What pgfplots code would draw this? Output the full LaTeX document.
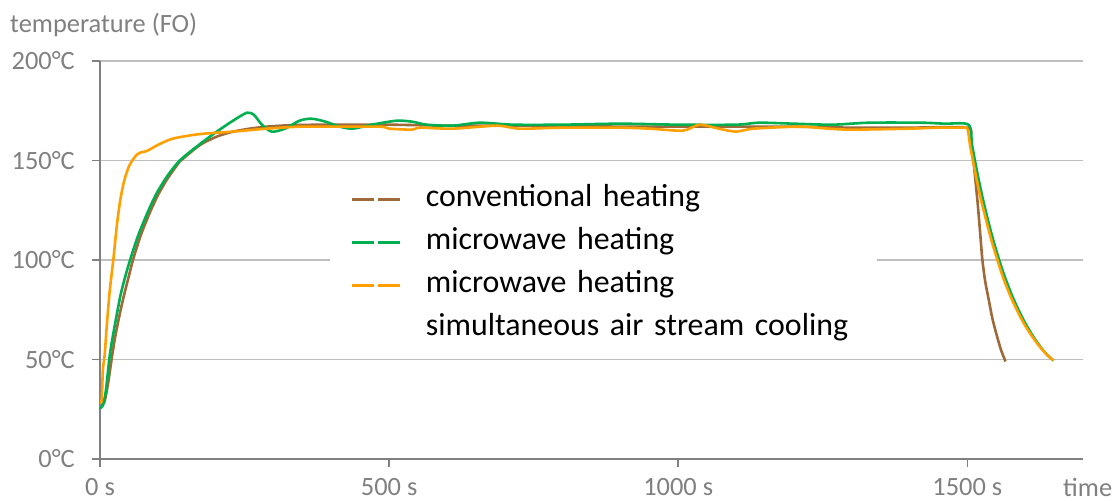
\documentclass[border=0pt]{standalone}
\usepackage{fontspec}
\setmainfont{Carlito}
\usepackage{pgfplots}
\pgfplotsset{compat=1.18}
\definecolor{cbrown}{RGB}{158,106,58}
\definecolor{cgreen}{RGB}{0,176,80}
\definecolor{corange}{RGB}{255,160,0}
\definecolor{axgray}{RGB}{128,128,128}
\definecolor{gridgray}{RGB}{191,191,191}
\begin{document}
\begin{tikzpicture}
\begin{axis}[
  scale only axis,
  width=983bp, height=398bp,
  xmin=0, xmax=1700, ymin=0, ymax=200,
  axis x line*=bottom, axis y line*=left,
  axis line style={axgray, line width=1.8bp},
  xtick={0,500,1000,1500},
  ytick={0,50,100,150,200},
  xticklabels={0 s,500 s,1000 s,1500 s},
  yticklabels={0°C,50°C,100°C,150°C,200°C},
  tick align=outside,
  major tick length=8bp,
  tick style={axgray, line width=1.5bp},
  ymajorgrids,
  major grid style={gridgray, line width=1.6bp},
  /pgf/number format/assume math mode=true,
  every tick label/.append style={font=\fontsize{26.5}{30}\selectfont, text=axgray},
  xticklabel style={anchor=base, inner sep=0pt, yshift=-28bp},
  yticklabel style={anchor=east, inner sep=0pt, xshift=-17bp},
  clip=false,
  legend image code/.code={\draw[#1] (0bp,0bp) -- (22bp,0bp); \draw[#1] (26bp,0bp) -- (48bp,0bp);},
  legend style={at={(rel axis cs:0.234,0.69)}, anchor=north west, fill=white, draw=none,
    font=\fontsize{32}{38}\selectfont, text=black,
    inner xsep=20bp, inner ysep=0bp, row sep=13bp,
    nodes={inner sep=0pt, text height=22bp, text depth=8bp},
    /tikz/every odd column/.append style={column sep=25bp},
    /tikz/every even column/.append style={nodes={text width=431bp, align=left}}},
  legend cell align=left,
  every axis plot/.append style={line width=2.6bp, smooth, tension=0.45},
]
\coordinate (O) at (rel axis cs:0,0);
\addplot[cbrown] coordinates {
(3,27)(8,29)(14,38)(20,50)(26,61)(35,74)(43,84)(50,92)(57,100)(70,112)(85,123)(100,132.5)(117,141)(138,149.5)(144,151)(173,157.8)(202,162)(230,164.5)(259,166)(288,167)(334,167.8)(400,168)(500,168)(600,167.5)(700,167.5)(800,167.5)(900,167)(1000,167)(1100,167)(1200,167)(1300,166.5)(1400,166.5)(1500,166.5)(1505,161)(1510,151)(1514,140)(1518,128)(1522,114)(1526,100)(1531,89)(1537,80)(1543,71)(1550,63)(1558,55)(1566,49)
};
\addlegendentry{conventional heating}
\addplot[cgreen] coordinates {
(0,25.5)(5,27)(10,34)(16,50)(20,58)(28,71)(36,83)(44,92)(52,100)(65,111.5)(81,123)(97,133)(116,142)(138,150)(173,158.3)(202,164.5)(230,170)(254,174)(266,173)(280,168)(297,164.5)(320,166)(345,170)(366,171)(390,169.5)(415,167)(437,166)(470,168)(513,170)(540,169.5)(565,168)(610,167.5)(657,169)(714,168)(800,168)(900,168.5)(1000,168)(1100,168)(1140,169)(1200,168.5)(1267,168)(1330,169)(1420,169)(1460,168.5)(1502,168)(1508,158)(1514,148.6)(1520,139.8)(1526,131.7)(1535,120.7)(1545,109.7)(1555,100)(1565,91.3)(1578,81.6)(1590,73.9)(1600,68.3)(1613,61.9)(1625,56.9)(1637,52.6)(1649,49.5)
};
\addlegendentry{microwave heating}
\addplot[corange] coordinates {
(0,28)(3,30)(5,45)(8,52)(12,68)(17,85)(23,100)(29,117)(35,130)(42,140)(50,147)(57,150.5)(64,153)(70,154)(78,154.5)(86,155.5)(100,157.8)(126,161)(173,163.3)(230,164.5)(288,166)(346,167)(397,167)(484,167)(500,166)(540,165.5)(553,166.5)(610,166)(686,167.5)(726,166)(800,166.5)(900,166.5)(950,166)(1008,165)(1037,168)(1070,166)(1100,164.5)(1130,166)(1210,167)(1260,166)(1300,165.5)(1400,166)(1450,166.5)(1490,166.5)(1500,166)(1505,157)(1511,148)(1517,139)(1523,131)(1532,120.5)(1542,109.5)(1552,100)(1562,91)(1575,81.5)(1588,73.5)(1598,68)(1611,62)(1625,56.5)(1637,52.6)(1649,49.5)
};
\addlegendentry{microwave heating}
\addlegendimage{empty legend}
\addlegendentry{simultaneous air stream cooling}
\node[anchor=base west, inner sep=0pt, font=\fontsize{26.5}{30}\selectfont, text=axgray] at (rel axis cs:1,0) [xshift=-20bp, yshift=-37bp] {time};
\node[anchor=base west, inner sep=0pt, font=\fontsize{26.5}{30}\selectfont, text=axgray] at (rel axis cs:0,1) [xshift=-90bp, yshift=28bp] {temperature (FO)};
\end{axis}
\pgfresetboundingbox
\path[use as bounding box] (O) ++(-100bp,-42bp) rectangle ++(1115bp,501bp);
\end{tikzpicture}
\end{document}
